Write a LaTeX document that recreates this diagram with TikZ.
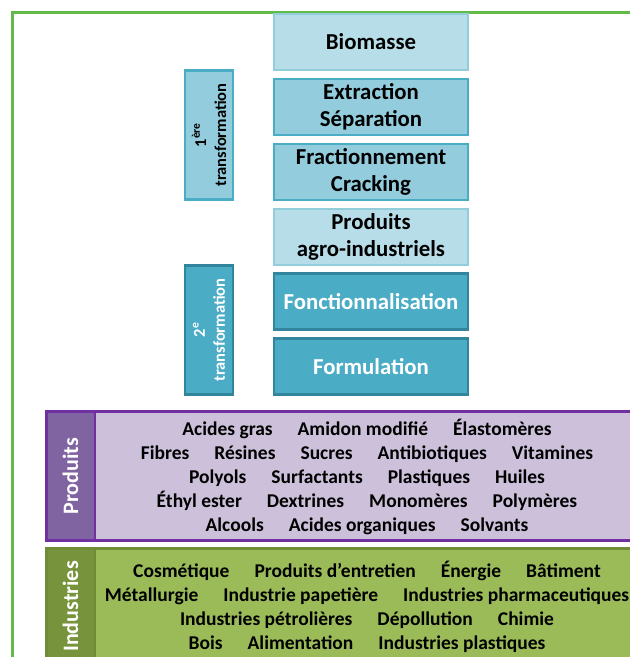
\documentclass[tikz,border=0pt]{standalone}
\usepackage{fontspec}
\setmainfont{Carlito}
\definecolor{frameG}{RGB}{98,187,70}
\definecolor{lightB}{RGB}{183,222,232}
\definecolor{lightBd}{RGB}{146,205,220}
\definecolor{midB}{RGB}{147,205,221}
\definecolor{midBd}{RGB}{75,172,198}
\definecolor{darkB}{RGB}{75,172,198}
\definecolor{darkBd}{RGB}{49,133,156}
\definecolor{purL}{RGB}{128,100,162}
\definecolor{purC}{RGB}{204,192,218}
\definecolor{purBd}{RGB}{112,48,160}
\definecolor{grnL}{RGB}{119,147,60}
\definecolor{grnC}{RGB}{155,187,89}
\definecolor{grnBd}{RGB}{111,140,55}
\newcommand\wgap{\hspace{25pt}}
\tikzset{
  stage/.style={rectangle, line width=2.5pt, minimum width=194pt, minimum height=56pt,
    align=center, inner sep=0pt, font=\fontsize{22.8}{27}\selectfont\bfseries},
  side/.style={rectangle, line width=2.5pt, rotate=90, minimum width=129pt, minimum height=48pt,
    align=center, inner sep=0pt, font=\fontsize{16.5}{20}\selectfont\bfseries},
  bandlab/.style={rectangle, rotate=90, inner sep=0pt, text=white, font=\fontsize{22}{26}\selectfont\bfseries},
  bandtxt/.style={align=center, inner sep=0pt, font=\fontsize{19.5}{24}\selectfont\bfseries},
}
\begin{document}
\begin{tikzpicture}[x=1pt,y=-1pt]
\useasboundingbox (0,0) rectangle (630,657);
\clip (0,0) rectangle (630,657);
\fill[white] (0,0) rectangle (630,657);
% frame
\draw[frameG, line width=2.5pt] (12.5,720) -- (12.5,12.5) -- (720,12.5);
% stages
\node[stage, fill=lightB, draw=lightBd] (bio) at (371,42) {Biomasse};
\node[stage, fill=midB, draw=midBd] (ext) at (371,107) {Extraction\\Séparation};
\node[stage, fill=midB, draw=midBd] (fra) at (371,172) {Fractionnement\\Cracking};
\node[stage, fill=lightB, draw=lightBd] (pai) at (371,237) {Produits\\agro-industriels};
\node[stage, fill=darkB, draw=darkBd, text=white] (fon) at (371,301.5) {Fonctionnalisation};
\node[stage, fill=darkB, draw=darkBd, text=white] (frm) at (371,366.5) {Formulation};
% side labels
\node[side, fill=midB, draw=midBd] (t1) at (209,135) {1\textsuperscript{ère}\\transformation};
\node[side, fill=darkB, draw=darkBd, text=white] (t2) at (209,330) {2\textsuperscript{e}\\transformation};
% Produits band
\draw[purBd, fill=purC, line width=2.5pt] (46.3,411.3) rectangle (720,540.7);
\draw[purBd, fill=purL, line width=2.5pt] (46.3,411.3) rectangle (95,540.7);
\node[bandlab] (plab) at (70.5,476) {Produits};
\node[bandtxt] (ptxt) at (367,477) {Acides gras\wgap Amidon modifié\wgap Élastomères\\
Fibres\wgap Résines\wgap Sucres\wgap Antibiotiques\wgap Vitamines\\
Polyols\wgap Surfactants\wgap Plastiques\wgap Huiles\\
Éthyl ester\wgap Dextrines\wgap Monomères\wgap Polymères\\
Alcools\wgap Acides organiques\wgap Solvants};
% Industries band
\draw[grnBd, fill=grnC, line width=2.5pt] (46.3,548.3) rectangle (720,720);
\draw[grnBd, fill=grnL, line width=2.5pt] (46.3,548.3) rectangle (95,720);
\node[bandlab] (ilab) at (70.5,606.5) {Industries};
\node[bandtxt] (itxt) at (367,607) {Cosmétique\wgap Produits d’entretien\wgap Énergie\wgap Bâtiment\\
Métallurgie\wgap Industrie papetière\wgap Industries pharmaceutiques\\
Industries pétrolières\wgap Dépollution\wgap Chimie\\
Bois\wgap Alimentation\wgap Industries plastiques};
\end{tikzpicture}
\end{document}
